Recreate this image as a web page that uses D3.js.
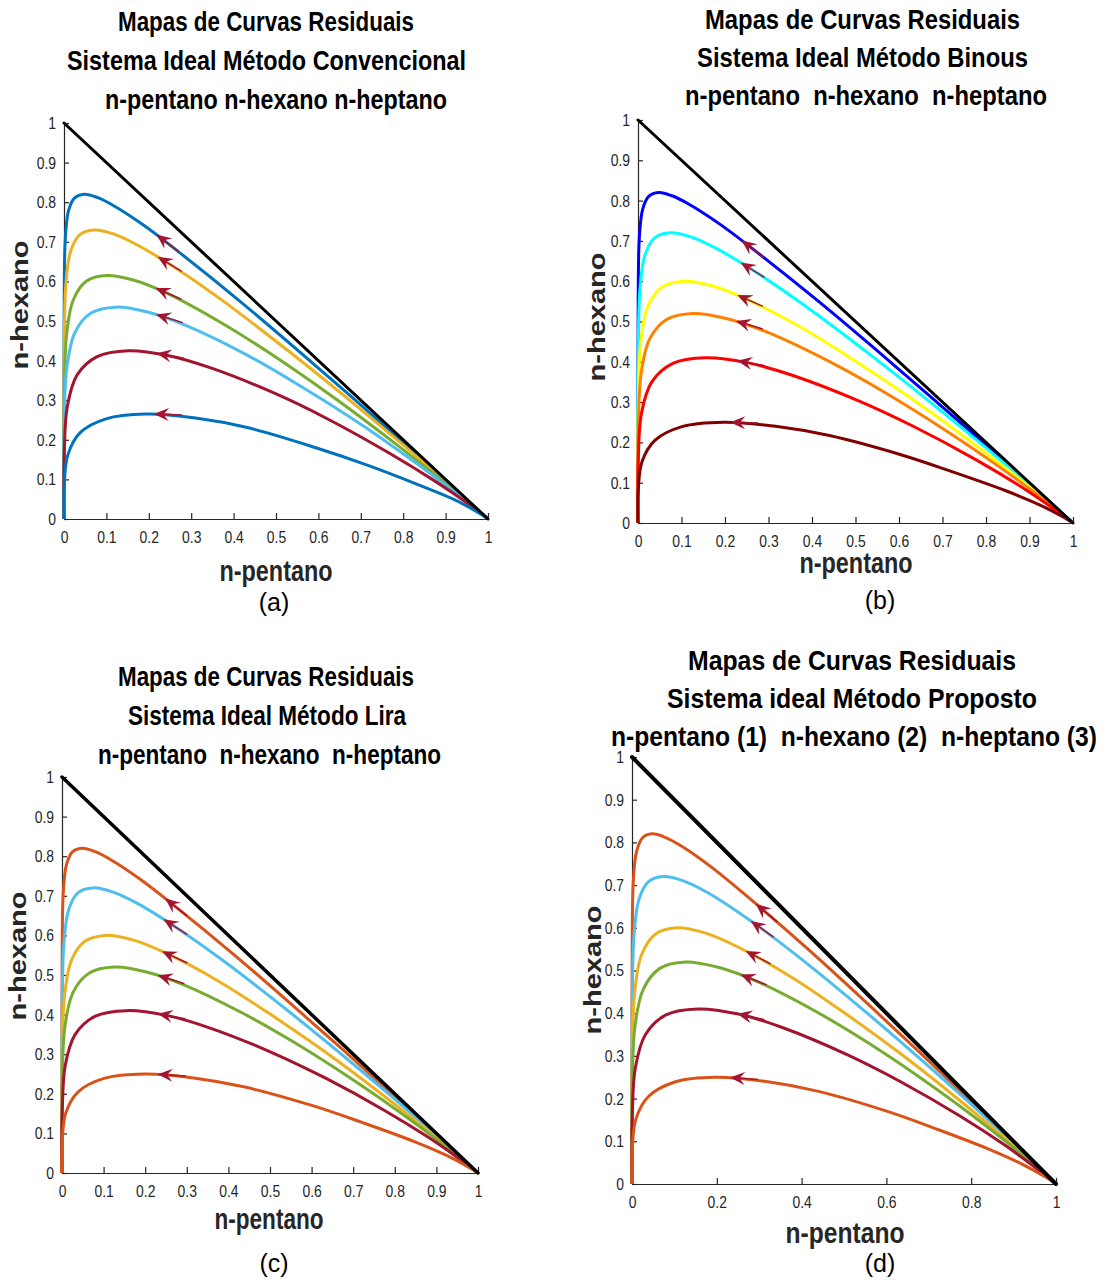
<!DOCTYPE html>
<html>
<head>
<meta charset="utf-8">
<title>Mapas de Curvas Residuais</title>
<script src="https://cdn.jsdelivr.net/npm/d3@7"></script>
<style>
	body { margin: 0; background: #fff; }
	svg text { font-family: "Liberation Sans", Arial, sans-serif; }
</style>
</head>
<body>
<div id="chart"></div>
<script>
	// residue curves, points are [n-pentano, n-hexano]
	// named after the peak n-hexano value of each curve
	var rc82 = [[0,0],[0.0004,0.553],[0.0032,0.710],[0.0108,0.779],[0.0251,0.811],[0.0474,0.820],[0.0782,0.812],[0.1173,0.791],[0.1889,0.741],[0.2711,0.674],[0.4138,0.551],[0.5883,0.392],[0.7899,0.203],[0.929,0.069],[0.983,0.016],[0.996,0.004],[1,0]];
	var rc73 = [[0,0],[0.0005,0.423],[0.0044,0.592],[0.0158,0.677],[0.0374,0.718],[0.071,0.730],[0.1167,0.720],[0.1729,0.692],[0.2702,0.629],[0.3734,0.552],[0.5331,0.421],[0.6998,0.277],[0.861,0.131],[0.9559,0.042],[0.9901,0.010],[1,0]];
	var rc615 = [[0,0],[0.0006,0.302],[0.0058,0.462],[0.0218,0.553],[0.053,0.601],[0.1013,0.615],[0.1654,0.603],[0.2413,0.571],[0.3638,0.500],[0.4822,0.421],[0.6437,0.301],[0.7891,0.184],[0.9094,0.082],[0.9729,0.025],[0.9934,0.006],[1,0]];
	var rc535 = [[0,0],[0.0006,0.238],[0.0067,0.382],[0.0258,0.471],[0.0637,0.520],[0.1223,0.535],[0.199,0.522],[0.2871,0.489],[0.4231,0.419],[0.5466,0.343],[0.7034,0.237],[0.8319,0.140],[0.931,0.060],[0.9798,0.018],[0.995,0.004],[1,0]];
	var rc425 = [[0,0],[0.0007,0.167],[0.0078,0.284],[0.031,0.364],[0.0782,0.410],[0.1513,0.425],[0.2447,0.413],[0.348,0.381],[0.4977,0.317],[0.6231,0.252],[0.7677,0.166],[0.8759,0.095],[0.9517,0.040],[0.9863,0.012],[1,0]];
	var rc265 = [[0,0],[0.0007,0.089],[0.0091,0.162],[0.0381,0.218],[0.099,0.253],[0.1934,0.265],[0.3103,0.255],[0.4323,0.231],[0.5941,0.180],[0.7153,0.136],[0.8392,0.085],[0.9206,0.049],[0.9713,0.020],[0.9924,0.006],[1,0]];
	var rc72 = [[0,0],[0.0005,0.411],[0.0046,0.580],[0.0163,0.666],[0.0388,0.708],[0.0737,0.720],[0.121,0.710],[0.179,0.682],[0.2788,0.617],[0.3838,0.539],[0.544,0.409],[0.7094,0.267],[0.8665,0.126],[0.9579,0.040],[0.9906,0.009],[1,0]];
	var rc60 = [[0,0],[0.0006,0.289],[0.006,0.446],[0.0226,0.537],[0.055,0.585],[0.1052,0.600],[0.1718,0.588],[0.25,0.555],[0.3754,0.485],[0.495,0.405],[0.6562,0.288],[0.7982,0.175],[0.914,0.077],[0.9744,0.024],[0.9938,0.005],[1,0]];
	var rc52 = [[0,0],[0.0006,0.227],[0.0069,0.368],[0.0265,0.456],[0.0657,0.505],[0.1263,0.520],[0.2053,0.507],[0.2956,0.474],[0.4337,0.404],[0.5578,0.330],[0.7127,0.226],[0.839,0.133],[0.9345,0.057],[0.9808,0.017],[1,0]];
	var rc41 = [[0,0],[0.0007,0.159],[0.0079,0.272],[0.0317,0.350],[0.0802,0.396],[0.1552,0.410],[0.2509,0.398],[0.3561,0.366],[0.5073,0.303],[0.6326,0.240],[0.7754,0.158],[0.8808,0.090],[0.9535,0.037],[0.987,0.011],[1,0]];
	var rc25 = [[0,0],[0.0007,0.083],[0.0092,0.152],[0.0388,0.205],[0.101,0.239],[0.1973,0.250],[0.3164,0.240],[0.44,0.217],[0.6025,0.170],[0.723,0.127],[0.8455,0.080],[0.9232,0.045],[0.9723,0.018],[0.9928,0.005],[1,0]];

	// the 1-2 edge of the triangle
	var edge = [[0,1],[1,0]];

	// n-pentano position of the arrow tip on each curve
	var arrowsA = [0.218,0.221,0.216,0.217,0.218,0.212];
	var arrowsB = [0.238,0.236,0.228,0.225,0.228,0.212];
	var arrowsC = [0.248,0.244,0.240,0.230,0.230,0.230];
	var arrowsD = [0.292,0.280,0.268,0.256,0.248,0.231];

	var ticksTenth = [0,0.1,0.2,0.3,0.4,0.5,0.6,0.7,0.8,0.9,1];
	var ticksFifth = [0,0.2,0.4,0.6,0.8,1];

	var colorsA = ["#0072BD","#EDB120","#77AC30","#4DBEEE","#A2142F","#0072BD"];
	var colorsB = ["#0000FF","#00FFFF","#FFFF00","#FF8000","#FF0000","#800000"];
	var colorsC = ["#D95319","#4DBEEE","#EDB120","#77AC30","#A2142F","#D95319"];

	var titlesA = ["Mapas de Curvas Residuais", "Sistema Ideal Método Convencional", "n-pentano n-hexano n-heptano"];
	var titlesB = ["Mapas de Curvas Residuais", "Sistema Ideal Método Binous", "n-pentano  n-hexano  n-heptano"];
	var titlesC = ["Mapas de Curvas Residuais", "Sistema Ideal Método Lira", "n-pentano  n-hexano  n-heptano"];
	var titlesD = ["Mapas de Curvas Residuais", "Sistema ideal Método Proposto", "n-pentano (1)  n-hexano (2)  n-heptano (3)"];

	var w = 1108;
	var h = 1280;
	var sx = 0.82; // the figure is squeezed sideways

	var panels = [
		{ sub: "(a)", x0: 64, x1: 488, y0: 519, y1: 123, curves: [rc82, rc73, rc615, rc535, rc425, rc265],
			colors: colorsA, arrows: arrowsA, xticks: ticksTenth, titles: titlesA,
			tpos: [[118, 31, 296], [67, 70, 399], [105, 109, 342]],
			xlab: [276, 581, 113], subPos: [274, 611], ylab: [20, 305], edgeW: 3 },
		{ sub: "(b)", x0: 638, x1: 1073, y0: 523, y1: 120, curves: [rc82, rc72, rc60, rc52, rc41, rc25],
			colors: colorsB, arrows: arrowsB, xticks: ticksTenth, titles: titlesB,
			tpos: [[705, 29, 315], [697, 67, 331], [685, 105, 362]],
			xlab: [856, 573, 113], subPos: [880, 609], ylab: [597, 317], edgeW: 3 },
		{ sub: "(c)", x0: 62, x1: 478, y0: 1173, y1: 777, curves: [rc82, rc72, rc60, rc52, rc41, rc25],
			colors: colorsC, arrows: arrowsC, xticks: ticksTenth, titles: titlesC,
			tpos: [[118, 686, 296], [128, 725, 278], [98, 764, 343]],
			xlab: [269, 1229, 109], subPos: [274, 1272], ylab: [18, 956], edgeW: 3.5 },
		{ sub: "(d)", x0: 632, x1: 1056, y0: 1184, y1: 757, curves: [rc82, rc72, rc60, rc52, rc41, rc25],
			colors: colorsC, arrows: arrowsD, xticks: ticksFifth, titles: titlesD,
			tpos: [[611, 670, 328], [667, 708, 370], [611, 746, 486]],
			xlab: [845, 1243, 119], subPos: [880, 1272], ylab: [593, 970], edgeW: 4 }
	];
	// first title line of (d) is centred on its other lines
	panels[3].tpos[0][0] = 688;

	var svg = d3.select("#chart")
		.append("svg")
		.attr("width", w)
		.attr("height", h);

	var arrowRed = "#A2142F";
	var axisGrey = "#262626";

	function pointAtX(node, px) {
		var lo = 0, hi = node.getTotalLength();
		for (var i = 0; i < 40; i++) {
			var mid = (lo + hi) / 2;
			if (node.getPointAtLength(mid).x < px) lo = mid;
			else hi = mid;
		}
		return lo;
	}

	panels.forEach(function (p) {
		var g = svg.append("g");
		var x = d3.scaleLinear().domain([0, 1]).range([p.x0, p.x1]);
		var y = d3.scaleLinear().domain([0, 1]).range([p.y0, p.y1]);

		// axes, ticks pointing inward like matlab
		var xAxis = d3.axisBottom(x).tickValues(p.xticks)
			.tickSizeInner(-6).tickSizeOuter(0).tickPadding(12)
			.tickFormat(function (d) { return String(d); });
		var yAxis = d3.axisLeft(y).tickValues(ticksTenth)
			.tickSizeInner(-5).tickSizeOuter(0).tickPadding(9)
			.tickFormat(function (d) { return String(d); });

		var gx = g.append("g").attr("transform", "translate(0," + p.y0 + ")").call(xAxis);
		var gy = g.append("g").attr("transform", "translate(" + p.x0 + ",0)").call(yAxis);
		[gx, gy].forEach(function (ax) {
			ax.select(".domain").attr("stroke", axisGrey).attr("stroke-width", 1.2);
			ax.selectAll(".tick line").attr("stroke", axisGrey).attr("stroke-width", 1.2);
			ax.selectAll(".tick text")
				.attr("fill", axisGrey)
				.style("font-size", "17px")
				.style("font-family", '"Liberation Sans", Arial, sans-serif');
		});
		gx.selectAll(".tick text").attr("transform", "scale(" + sx + ",1)");
		gy.selectAll(".tick text").attr("x", -8 / sx).attr("transform", "scale(" + sx + ",1)");

		// curves
		var line = d3.line()
			.x(function (d) { return x(d[0]); })
			.y(function (d) { return y(d[1]); })
			.curve(d3.curveCatmullRom.alpha(0.5));

		var paths = g.append("g").selectAll("path")
			.data(p.curves)
			.enter().append("path")
			.attr("d", line)
			.attr("fill", "none")
			.attr("stroke", function (d, i) { return p.colors[i]; })
			.attr("stroke-width", 3)
			.attr("stroke-linejoin", "round");

		g.append("path")
			.datum(edge)
			.attr("d", d3.line().x(function (d) { return x(d[0]); }).y(function (d) { return y(d[1]); }))
			.attr("fill", "none")
			.attr("stroke", "#000")
			.attr("stroke-width", p.edgeW)
			.attr("stroke-linecap", "round");

		// direction arrows
		var ga = g.append("g");
		paths.each(function (d, i) {
			var s = pointAtX(this, x(p.arrows[i]));
			var a = this.getPointAtLength(s);
			var b = this.getPointAtLength(s + 3);
			var ang = Math.atan2(b.y - a.y, b.x - a.x) * 180 / Math.PI;
			var arr = ga.append("g")
				.attr("transform", "translate(" + a.x + "," + a.y + ") rotate(" + ang + ")");
			arr.append("line")
				.attr("x1", 8).attr("y1", 0).attr("x2", 28).attr("y2", 0)
				.attr("stroke", arrowRed).attr("stroke-width", 1.5);
			arr.append("path")
				.attr("d", "M0,0L15,-6.5L9.5,0L15,6.5Z")
				.attr("fill", arrowRed);
		});

		// texts
		p.titles.forEach(function (t, i) {
			g.append("text")
				.attr("x", p.tpos[i][0])
				.attr("y", p.tpos[i][1])
				.attr("textLength", p.tpos[i][2])
				.attr("lengthAdjust", "spacingAndGlyphs")
				.style("font-size", "28px")
				.style("font-weight", "bold")
				.style("white-space", "pre")
				.attr("fill", "#000")
				.text(t);
		});

		g.append("text")
			.attr("x", p.xlab[0])
			.attr("y", p.xlab[1])
			.attr("text-anchor", "middle")
			.attr("textLength", p.xlab[2])
			.attr("lengthAdjust", "spacingAndGlyphs")
			.style("font-size", "29px")
			.style("font-weight", "bold")
			.attr("fill", axisGrey)
			.text("n-pentano");

		g.append("text")
			.attr("transform", "translate(" + p.ylab[0] + "," + p.ylab[1] + ") scale(" + sx + ",1) rotate(-90)")
			.attr("text-anchor", "middle")
			.attr("dominant-baseline", "central")
			.style("font-size", "29px")
			.style("font-weight", "bold")
			.attr("fill", axisGrey)
			.text("n-hexano");

		g.append("text")
			.attr("x", p.subPos[0])
			.attr("y", p.subPos[1])
			.attr("text-anchor", "middle")
			.style("font-size", "25px")
			.attr("fill", "#000")
			.text(p.sub);
	});
</script>
</body>
</html>
